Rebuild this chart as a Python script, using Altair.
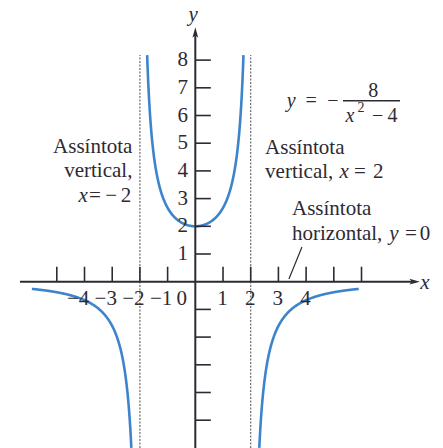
import altair as alt
import numpy as np
import pandas as pd

# Function drawn: y = -NUM / (x^2 - A2)
NUM = 8
A2 = 4

X_DOMAIN = [-7.051, 8.942]
Y_DOMAIN = [-6.004, 10.170]

# branch limits (x ranges) of the three pieces of the curve
branch_names = ["left", "middle", "right"]
branch_lo = [-5.9, -1.7384, 2.3094]
branch_hi = [-2.3094, 1.7384, 5.9]

asymptote_x = [-2, 2]
asymptote_top = 8.18

x_tick_values = [-5, -4, -3, -2, -1, 1, 2, 3, 4, 5, 6]
x_label_values = [-4, -3, -2, -1, 0, 1, 2, 3, 4]
x_label_text = ["−4", "−3", "−2", "−1", "0", "1", "2", "3", "4"]
y_tick_values = [-5, -4, -3, -2, -1, 1, 2, 3, 4, 5, 6, 7, 8]
y_label_values = [1, 2, 3, 4, 5, 6, 7, 8]

FONT = "Liberation Serif"
INK = "#2e2a33"
BLUE = "#3d84cc"

xs = alt.Scale(domain=X_DOMAIN, nice=False, zero=False)
ys = alt.Scale(domain=Y_DOMAIN, nice=False, zero=False)


def enc_xy(chart, x="x", y="y", **kw):
    return chart.encode(
        x=alt.X(f"{x}:Q", scale=xs, axis=None),
        y=alt.Y(f"{y}:Q", scale=ys, axis=None),
        **kw,
    )


def seg_layer(df, **mark_kw):
    return alt.Chart(df).mark_rule(**mark_kw).encode(
        x=alt.X("x:Q", scale=xs, axis=None),
        x2="x2:Q",
        y=alt.Y("y:Q", scale=ys, axis=None),
        y2="y2:Q",
    )


def text_layer(xv, yv, tv, **mark_kw):
    df = pd.DataFrame({"x": xv, "y": yv, "t": tv})
    base = dict(font=FONT, fontSize=21, color=INK)
    base.update(mark_kw)
    return enc_xy(alt.Chart(df).mark_text(**base), text="t:N")


# curve samples
rows = []
for name, lo, hi in zip(branch_names, branch_lo, branch_hi):
    xv = np.linspace(lo, hi, 300)
    for xi in xv:
        rows.append({"branch": name, "x": xi, "y": -NUM / (xi**2 - A2)})
curve_df = pd.DataFrame(rows)

curve = enc_xy(
    alt.Chart(curve_df).mark_line(color=BLUE, strokeWidth=2.6),
    detail="branch:N",
    order="x:Q",
)

asym = seg_layer(
    pd.DataFrame({"x": asymptote_x, "x2": asymptote_x,
                  "y": [Y_DOMAIN[0]] * 2, "y2": [asymptote_top] * 2}),
    color="#6a6a6a", strokeWidth=1.2, strokeDash=[2, 1.5],
)

axes = seg_layer(
    pd.DataFrame({"x": [-6.33, 0], "x2": [7.9, 0],
                  "y": [0, Y_DOMAIN[0]], "y2": [0, 9.0]}),
    color=INK, strokeWidth=2,
)

x_ticks = seg_layer(
    pd.DataFrame({"x": x_tick_values, "x2": x_tick_values,
                  "y": [0] * len(x_tick_values),
                  "y2": [0.54] * len(x_tick_values)}),
    color=INK, strokeWidth=1.6,
)
y_ticks = seg_layer(
    pd.DataFrame({"x": [0] * len(y_tick_values),
                  "x2": [0.56] * len(y_tick_values),
                  "y": y_tick_values, "y2": y_tick_values}),
    color=INK, strokeWidth=1.6,
)

arrow_x = enc_xy(
    alt.Chart(pd.DataFrame({"x": [7.92], "y": [0]})).mark_point(
        shape="M-1,-0.55L1,0L-1,0.55L-0.55,0Z", filled=True,
        color=INK, size=110, opacity=1),
)
arrow_y = enc_xy(
    alt.Chart(pd.DataFrame({"x": [0], "y": [9.0]})).mark_point(
        shape="M-0.55,1L0,-1L0.55,1L0,0.55Z", filled=True,
        color=INK, size=110, opacity=1),
)

fraction_bar = seg_layer(
    pd.DataFrame({"x": [5.33], "x2": [7.39], "y": [6.53], "y2": [6.53]}),
    color=INK, strokeWidth=1.4,
)
leader = seg_layer(
    pd.DataFrame({"x": [3.85], "x2": [3.38], "y": [1.25], "y2": [0.1]}),
    color=INK, strokeWidth=1.2,
)

# tick labels: right edge just past the tick, "0" sits left of the y axis
x_label_pos = [v + 0.17 if v != 0 else -0.3 for v in x_label_values]
x_labels = text_layer(x_label_pos, [-0.84] * len(x_label_values), x_label_text,
                      align="right", baseline="alphabetic")
y_labels = text_layer([-0.26] * len(y_label_values), y_label_values,
                      [str(v) for v in y_label_values],
                      align="right", baseline="middle")

# axis names
axis_names = text_layer([-0.08, 8.29], [9.63, -0.05], ["y", "x"],
                        align="center", baseline="middle", fontStyle="italic")

# annotation text, upright, right aligned (left asymptote)
left_block = text_layer([-2.27, -2.27], [4.64, 3.79],
                        ["Assíntota", "vertical,"],
                        align="right", baseline="alphabetic")
# annotation text, upright, left aligned
right_block = text_layer([2.52, 2.52, 3.49, 3.49],
                         [4.61, 3.73, 2.41, 1.505],
                         ["Assíntota", "vertical,", "Assíntota", "horizontal,"],
                         align="left", baseline="alphabetic")

# single upright symbols in the asymptote labels
sym_up = text_layer(
    [-3.62, -3.04, -2.5, 5.94, 6.6, 7.78, 8.29],
    [2.888, 2.888, 2.888, 3.73, 3.73, 1.505, 1.505],
    ["=", "−", "2", "=", "2", "=", "0"],
    align="center", baseline="alphabetic")
# italic variables in the asymptote labels
sym_it = text_layer(
    [-4.05, 5.37, 7.17],
    [2.888, 3.73, 1.505],
    ["x", "x", "y"],
    align="center", baseline="alphabetic", fontStyle="italic")

# the formula y = -8 / (x^2 - 4)
eq_up = text_layer(
    [4.18, 4.97, 6.42, 6.58, 7.12],
    [6.3, 6.3, 6.68, 5.78, 5.78],
    ["=", "−", "8", "−", "4"],
    align="center", baseline="alphabetic", fontSize=20)
eq_it = text_layer(
    [3.46, 5.58], [6.3, 5.78], ["y", "x"],
    align="center", baseline="alphabetic", fontSize=20, fontStyle="italic")
sup = text_layer([5.98], [6.14], ["2"], align="center",
                 baseline="alphabetic", fontSize=14)

chart = alt.layer(
    asym, curve, axes, x_ticks, y_ticks, arrow_x, arrow_y, fraction_bar,
    leader, x_labels, y_labels, axis_names, left_block, right_block,
    sym_up, sym_it, eq_up, eq_it, sup,
).properties(
    width=443, height=448, padding=0, autosize=alt.AutoSizeParams(type="none"),
    background="white",
).configure_view(stroke=None)

chart.save("out.html", embed_options={"renderer": "svg", "actions": False})
